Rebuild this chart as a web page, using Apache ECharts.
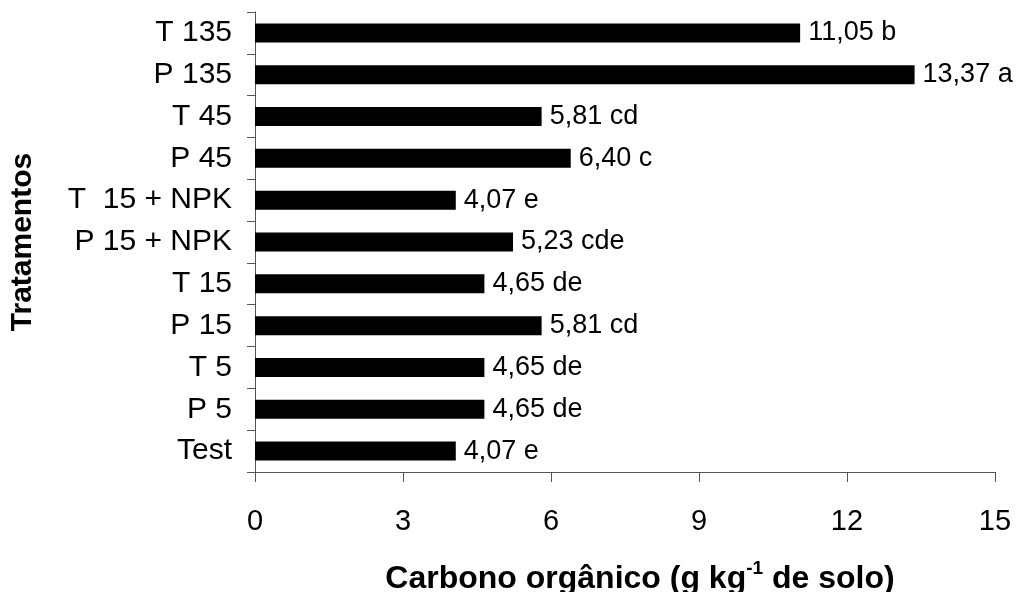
<!DOCTYPE html>
<html>
<head>
<meta charset="utf-8">
<script src="https://cdn.jsdelivr.net/npm/echarts@6/dist/echarts.min.js"></script>
<style>html,body{margin:0;padding:0;background:#fff}#c{width:1018px;height:592px}</style>
</head>
<body>
<div id="c"></div>
<script>
var categories = ['Test', 'P 5', 'T 5', 'P 15', 'T 15', 'P 15 + NPK', 'T  15 + NPK', 'P 45', 'T 45', 'P 135', 'T 135'];
var values = [4.07, 4.65, 4.65, 5.81, 4.65, 5.23, 4.07, 6.40, 5.81, 13.37, 11.05];
var letters = ['e', 'de', 'de', 'cd', 'de', 'cde', 'e', 'c', 'cd', 'a', 'b'];
var xTicks = [0, 3, 6, 9, 12, 15];

var font = 'Liberation Sans, Arial, sans-serif';
var chart = echarts.init(document.getElementById('c'), null, {renderer: 'canvas'});
chart.setOption({
  animation: false,
  backgroundColor: '#fff',
  grid: {left: 255, right: 23, top: 12, bottom: 120, containLabel: false, outerBoundsMode: 'none'},
  xAxis: {
    type: 'value', min: xTicks[0], max: xTicks[xTicks.length - 1], interval: 3,
    splitLine: {show: false},
    axisLine: {show: true, lineStyle: {color: '#555', width: 1}},
    axisTick: {show: true, length: 10, lineStyle: {color: '#555'}},
    axisLabel: {color: '#000', fontSize: 29, fontFamily: font, margin: 35},
    name: '{a|Carbono orgânico (g kg}{s|-1}{a| de solo)}',
    nameLocation: 'middle', nameGap: 87,
    nameTextStyle: {
      color: '#000', fontFamily: font, padding: [0, 0, 0, 30],
      rich: {
        a: {fontSize: 32, fontWeight: 'bold', fontFamily: font, color: '#000', verticalAlign: 'bottom', lineHeight: 36},
        s: {fontSize: 19, fontWeight: 'bold', fontFamily: font, color: '#000', verticalAlign: 'top', lineHeight: 36, padding: [0, 0, 15, 0]}
      }
    }
  },
  yAxis: {
    type: 'category', data: categories,
    axisLine: {show: true, lineStyle: {color: '#555', width: 1}},
    axisTick: {show: true, length: 8, lineStyle: {color: '#555'}},
    axisLabel: {color: '#000', fontSize: 30, fontFamily: font, margin: 23},
    name: 'Tratamentos', nameLocation: 'middle', nameGap: 217, nameRotate: 90,
    nameTextStyle: {color: '#000', fontSize: 30, fontWeight: 'bold', fontFamily: font}
  },
  series: [{
    type: 'bar', data: values, barWidth: 19,
    itemStyle: {color: '#000'},
    label: {
      show: true, position: 'right', distance: 8,
      color: '#000', fontSize: 27, fontFamily: font,
      formatter: function (p) { return p.value.toFixed(2).replace('.', ',') + ' ' + letters[p.dataIndex]; }
    }
  }]
});
</script>
</body>
</html>
